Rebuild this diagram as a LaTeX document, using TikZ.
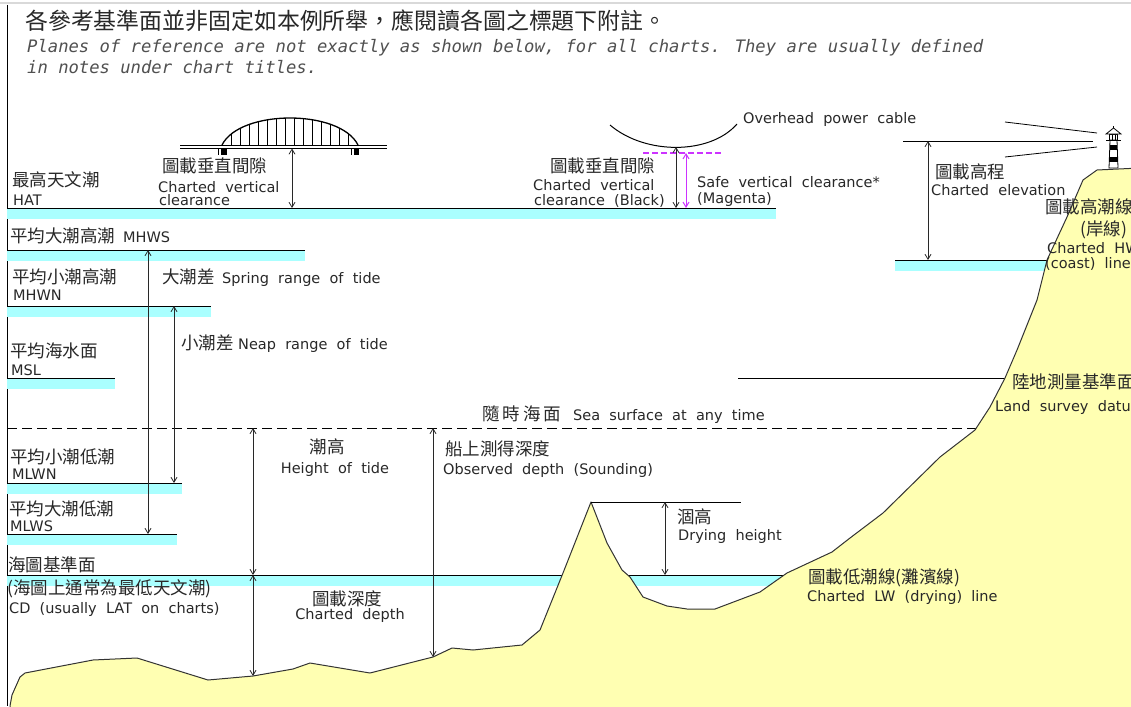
\documentclass[tikz,border=0pt]{standalone}
\usepackage{fontspec}
\setmainfont{DejaVu Sans}[WordSpace=2]
\newfontfamily\zh{Noto Sans CJK TC}
\newfontfamily\hdmono{DejaVu Sans Mono}
\usetikzlibrary{arrows.meta}
\definecolor{tidecyan}{RGB}{170,255,255}
\definecolor{landfill}{RGB}{255,255,178}
\definecolor{safemag}{RGB}{204,51,255}
\definecolor{ink}{RGB}{40,40,40}
\definecolor{notegray}{RGB}{80,80,80}

\tikzset{
  en/.style={anchor=base west, inner sep=0pt, text=ink, font=\fontsize{14.5}{16}\selectfont},
  zhl/.style={anchor=base west, inner sep=0pt, text=ink, font=\zh\fontsize{17.5}{20}\selectfont},
  hd/.style={anchor=base west, inner sep=0pt, text=notegray, font=\hdmono\itshape\fontsize{17.2}{20}\selectfont},
  lvl/.style={draw=black, line width=1pt},
  band/.style={fill=tidecyan},
  dim/.style={line width=0.8pt, draw=ink, {Straight Barb[length=5pt,width=6pt]}-{Straight Barb[length=5pt,width=6pt]}},
  magdim/.style={line width=1pt, draw=safemag, {Straight Barb[length=5pt,width=6pt]}-{Straight Barb[length=5pt,width=6pt]}},
  shore/.style={fill=landfill, draw=black!80, line width=1pt, line join=round},
}

% one tide level: cyan band with a black line on top
\newcommand\tidelevel[2]{%
  \fill[band] (7,#1) rectangle (#2,#1+11);
  \draw[lvl] (7,#1) -- (#2,#1);
}

\begin{document}
\begin{tikzpicture}[x=1pt,y=-1pt]
\clip (0,0) rectangle (1131,706);
\fill[white] (0,0) rectangle (1131,706);
\draw[black!15, line width=2pt] (0,3) -- (1131,3);
\draw[black, line width=1pt] (7,5) -- (7,706);

% header notes
\node[anchor=base west, inner sep=0pt, text=ink, font=\zh\fontsize{22.9}{24}\selectfont] (title) at (25,30)
  {各參考基準面並非固定如本例所舉，應閱讀各圖之標題下附註。};
\node[hd] (note1) at (27,53) {Planes of reference are not exactly as shown below, for all charts. They are usually defined};
\node[hd] (note2) at (27,74) {in notes under chart titles.};

% tide levels
\tidelevel{208}{776}
\tidelevel{250}{305}
\tidelevel{306}{211}
\tidelevel{378}{115}
\tidelevel{483}{182}
\tidelevel{534}{177}
\tidelevel{575}{800}
% high water line at the coast
\fill[band] (895,260) rectangle (1050,271);
\draw[lvl] (895,260) -- (1050,260);

% sea surface at any time
\draw[black, line width=1pt, dash pattern=on 10pt off 5pt] (7,428) -- (985,428);
% land survey datum
\draw[black, line width=1pt] (738,378) -- (1010,378);

% land and seabed
\filldraw[shore] (10,715) -- (10,706) -- (12,695) -- (20,677) -- (25,673) -- (93,660) -- (137,658)
  -- (208,680) -- (253,676) -- (293,669) -- (310,663) -- (370,673) -- (433,657) -- (452,648)
  -- (473,650) -- (522,645) -- (540,630) -- (563,573) -- (591,502) -- (607,543) -- (622,570)
  -- (630,577) -- (643,597) -- (667,606) -- (687,609) -- (715,609) -- (760,592) -- (787,573)
  -- (832,552) -- (850,538) -- (883,513) -- (940,457) -- (975,430) -- (990,407) -- (1005,378)
  -- (1017,350) -- (1037,300) -- (1047,260) -- (1067,217) -- (1083,180) -- (1097,170)
  -- (1140,168) -- (1140,715) -- cycle;

% bridge
\draw[black, line width=0.9pt] (180,145) -- (387,145);
\draw[black, line width=0.9pt] (180,148.5) -- (387,148.5);
\draw[black, line width=1.3pt] (222,145) .. controls (240,109) and (340,109) .. (358,145);
\begin{scope}
  \clip (222,145) .. controls (240,109) and (340,109) .. (358,145) -- cycle;
  \foreach \hx in {231,240,...,350} \draw[black, line width=0.8pt] (\hx,100) -- (\hx,145);
\end{scope}
\fill[black] (221,148.5) rectangle (226.5,155);
\draw[black, line width=0.7pt] (218.5,148.5) -- (218.5,155);
\fill[black] (353.5,148.5) rectangle (359,155);
\draw[black, line width=0.7pt] (351,148.5) -- (351,155);

% overhead power cable
\draw[black, line width=1pt] (610,125) .. controls (645,155) and (710,155) .. (737,124);
\draw[safemag, line width=1.1pt, dash pattern=on 6pt off 3pt] (643,153) -- (723,153);

% lighthouse and light rays
\draw[black, line width=0.8pt] (1005,122) -- (1097,133);
\draw[black, line width=0.8pt] (1005,157) -- (1097,147);
\draw[black, line width=1pt] (903,141) -- (1093,141);
\filldraw[fill=white, draw=black, line width=0.8pt] (1109,168) -- (1110,140) -- (1117,140) -- (1118,168) -- cycle;
\fill[black] (1109.6,145) rectangle (1117.4,150);
\fill[black] (1109.3,157) rectangle (1117.7,162);
\draw[black, line width=0.9pt] (1106,140) -- (1121,140);
\draw[black, line width=0.7pt] (1109.5,134) rectangle (1117.5,140);
\draw[black, line width=0.6pt] (1112.2,134) -- (1112.2,140) (1114.8,134) -- (1114.8,140);
\filldraw[fill=white, draw=black, line width=0.8pt] (1106,134) -- (1113.5,128) -- (1121,134) -- cycle;
\draw[black, line width=0.8pt] (1113.5,128) -- (1113.5,125.5);

% dimension anchors
\coordinate (sprTop) at (148,250);  \coordinate (sprBot) at (148,534);
\coordinate (nepTop) at (174,306);  \coordinate (nepBot) at (174,483);
\coordinate (hotTop) at (253,428);  \coordinate (cdMid) at (253,575);  \coordinate (cdBed) at (253,676);
\coordinate (obsTop) at (433,428);  \coordinate (obsBed) at (433,657);
\coordinate (peak) at (591,502);    \coordinate (dryEnd) at (741,502);
\coordinate (dryTop) at (665,502);  \coordinate (dryBot) at (665,575);
\coordinate (elevTop) at (928,141); \coordinate (elevBot) at (928,260);
\coordinate (brDeck) at (292,148.5); \coordinate (brHAT) at (292,208);
\coordinate (cabLow) at (676,147);  \coordinate (cabHAT) at (676,208);
\coordinate (safeTop) at (686,153); \coordinate (safeHAT) at (686,208);

\draw[black, line width=1pt] (peak) -- (dryEnd);
\draw[dim] (sprTop) -- (sprBot);
\draw[dim] (nepTop) -- (nepBot);
\draw[dim] (hotTop) -- (cdMid);
\draw[dim] (cdMid) -- (cdBed);
\draw[dim] (obsTop) -- (obsBed);
\draw[dim] (dryTop) -- (dryBot);
\draw[dim] (elevTop) -- (elevBot);
\draw[dim] (brDeck) -- (brHAT);
\draw[dim] (cabLow) -- (cabHAT);
\draw[magdim] (safeTop) -- (safeHAT);

% level labels
\node[zhl] (hatZh) at (12,186) {最高天文潮};
\node[en] (hatEn) at (13,205) {HAT};
\node[zhl] (mhwsZh) at (10,242) {平均大潮高潮};
\node[en] (mhwsEn) at (123,242) {MHWS};
\node[zhl] (mhwnZh) at (12,283) {平均小潮高潮};
\node[en] (mhwnEn) at (13,300) {MHWN};
\node[zhl] (mslZh) at (10,357) {平均海水面};
\node[en] (mslEn) at (11,375) {MSL};
\node[zhl] (mlwnZh) at (10,463) {平均小潮低潮};
\node[en] (mlwnEn) at (12,479) {MLWN};
\node[zhl] (mlwsZh) at (9,515) {平均大潮低潮};
\node[en] (mlwsEn) at (10,531) {MLWS};
\node[zhl] (cdZh) at (8,571) {海圖基準面};
\node[zhl] (cdNote) at (7,594) {(海圖上通常為最低天文潮)};
\node[en] (cdEn) at (9,613) {CD (usually LAT on charts)};

% range labels
\node[zhl] (sprZh) at (162,283) {大潮差};
\node[en] (sprEn) at (222,283) {Spring range of tide};
\node[zhl] (nepZh) at (181,349) {小潮差};
\node[en] (nepEn) at (238,349) {Neap range of tide};

% depth labels
\node[zhl, anchor=base] (hotZh) at (327,453) {潮高};
\node[en, anchor=base] (hotEn) at (335,473) {Height of tide};
\node[zhl, anchor=base] (cdpZh) at (347,605) {圖載深度};
\node[en, anchor=base] (cdpEn) at (350,619) {Charted depth};
\node[zhl] (obsZh) at (445,455) {船上測得深度};
\node[en] (obsEn) at (443,474) {Observed depth (Sounding)};
\node[zhl] (seaZh) at (482,420) {隨\kern3pt 時\kern3pt 海\kern3pt 面};
\node[en] (seaEn) at (573,420) {Sea surface at any time};
\node[zhl] (dryZh) at (677,523) {涸高};
\node[en] (dryEn) at (678,540) {Drying height};
\node[zhl] (lwZh) at (808,583) {圖載低潮線(灘濱線)};
\node[en] (lwEn) at (807,601) {Charted LW (drying) line};
\node[zhl] (lsdZh) at (1012,388) {陸地測量基準面};
\node[en] (lsdEn) at (995,411) {Land survey datum};

% clearance and elevation labels
\node[zhl] (brZh) at (162,172) {圖載垂直間隙};
\node[en] (brEn1) at (158,192) {Charted vertical};
\node[en] (brEn2) at (159,205) {clearance};
\node[zhl] (cabZh) at (550,172) {圖載垂直間隙};
\node[en] (cabEn1) at (533,190) {Charted vertical};
\node[en] (cabEn2) at (534,205) {clearance (Black)};
\node[en] (safeEn1) at (697,187) {Safe vertical clearance*};
\node[en] (safeEn2) at (697,203) {(Magenta)};
\node[en] (cableEn) at (743,124) {Overhead power cable};
\node[zhl] (elevZh) at (935,178) {圖載高程};
\node[en] (elevEn) at (931,195) {Charted elevation};
\node[zhl] (hwZh) at (1045,213) {圖載高潮線};
\node[zhl] (hwZh2) at (1080,235) {(岸線)};
\node[en] (hwEn1) at (1047,253) {Charted HW};
\node[en] (hwEn2) at (1045,268) {(coast) line};
\end{tikzpicture}
\end{document}
